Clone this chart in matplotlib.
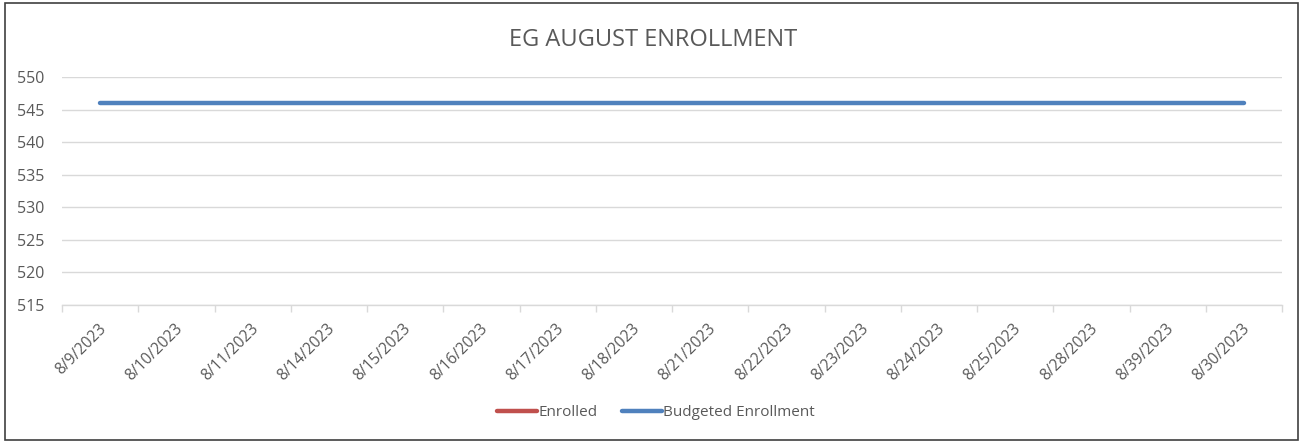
import numpy as np
import matplotlib
matplotlib.use("Agg")
import matplotlib.pyplot as plt
import matplotlib.transforms as mtransforms
from matplotlib.patches import Rectangle

dates = ["8/9/2023", "8/10/2023", "8/11/2023", "8/14/2023", "8/15/2023", "8/16/2023",
         "8/17/2023", "8/18/2023", "8/21/2023", "8/22/2023", "8/23/2023", "8/24/2023",
         "8/25/2023", "8/28/2023", "8/39/2023", "8/30/2023"]
enrolled = [np.nan] * 16
budgeted = [546] * 16

plt.rcParams['font.family'] = ['Open Sans', 'DejaVu Sans']
txt = '#595959'
grid = '#d9d9d9'

fig = plt.figure(figsize=(13.07, 4.43), dpi=100)
ax = fig.add_axes([62/1307, 1-305/443, (1282-62)/1307, (305-77)/443])

x = np.arange(len(dates))
ax.plot(x, enrolled, color='#c0504d', lw=3.2, solid_capstyle='round', label='Enrolled')
ax.plot(x, budgeted, color='#4f81bd', lw=3.2, solid_capstyle='round', label='Budgeted Enrollment')

ax.set_ylim(515, 550)
ax.set_yticks(np.arange(515, 551, 5))
ax.set_xlim(-0.5, len(dates) - 0.5)
ax.set_xticks(x)
ax.set_xticklabels(dates, rotation=45, ha='right', rotation_mode='anchor')
ax.set_xticks(np.arange(-0.5, len(dates), 1), minor=True)
ax.tick_params(axis='x', which='major', length=0, pad=11.5, labelsize=11.2, colors=txt)
ax.tick_params(axis='x', which='minor', length=5, color=grid, width=1)
ax.tick_params(axis='y', length=0, pad=13, labelsize=11.5, colors=txt)
offset = mtransforms.ScaledTranslation(-2/100, 0, fig.dpi_scale_trans)
for lab in ax.get_xticklabels():
    lab.set_color(txt)
    lab.set_transform(lab.get_transform() + offset)

for s in ['top', 'right', 'left']:
    ax.spines[s].set_visible(False)
ax.spines['bottom'].set_color(grid)
ax.spines['bottom'].set_linewidth(1)
ax.yaxis.grid(True, color=grid, lw=1)
ax.set_axisbelow(True)

fig.text(653/1307, 1-40/443, 'EG AUGUST ENROLLMENT', ha='center', va='center', fontsize=17, color=txt)

leg = fig.legend(loc='center', bbox_to_anchor=(656/1307, 1-413/443), ncol=2, frameon=False,
                 fontsize=11, handlelength=2.6, handletextpad=0.1, columnspacing=1.6, labelcolor=txt)

fig.patches.append(Rectangle((5/1307, 3/443), 1293/1307, 437/443, transform=fig.transFigure,
                             fill=False, edgecolor='#404040', lw=1.2))

fig.savefig('out.png', dpi=100)
